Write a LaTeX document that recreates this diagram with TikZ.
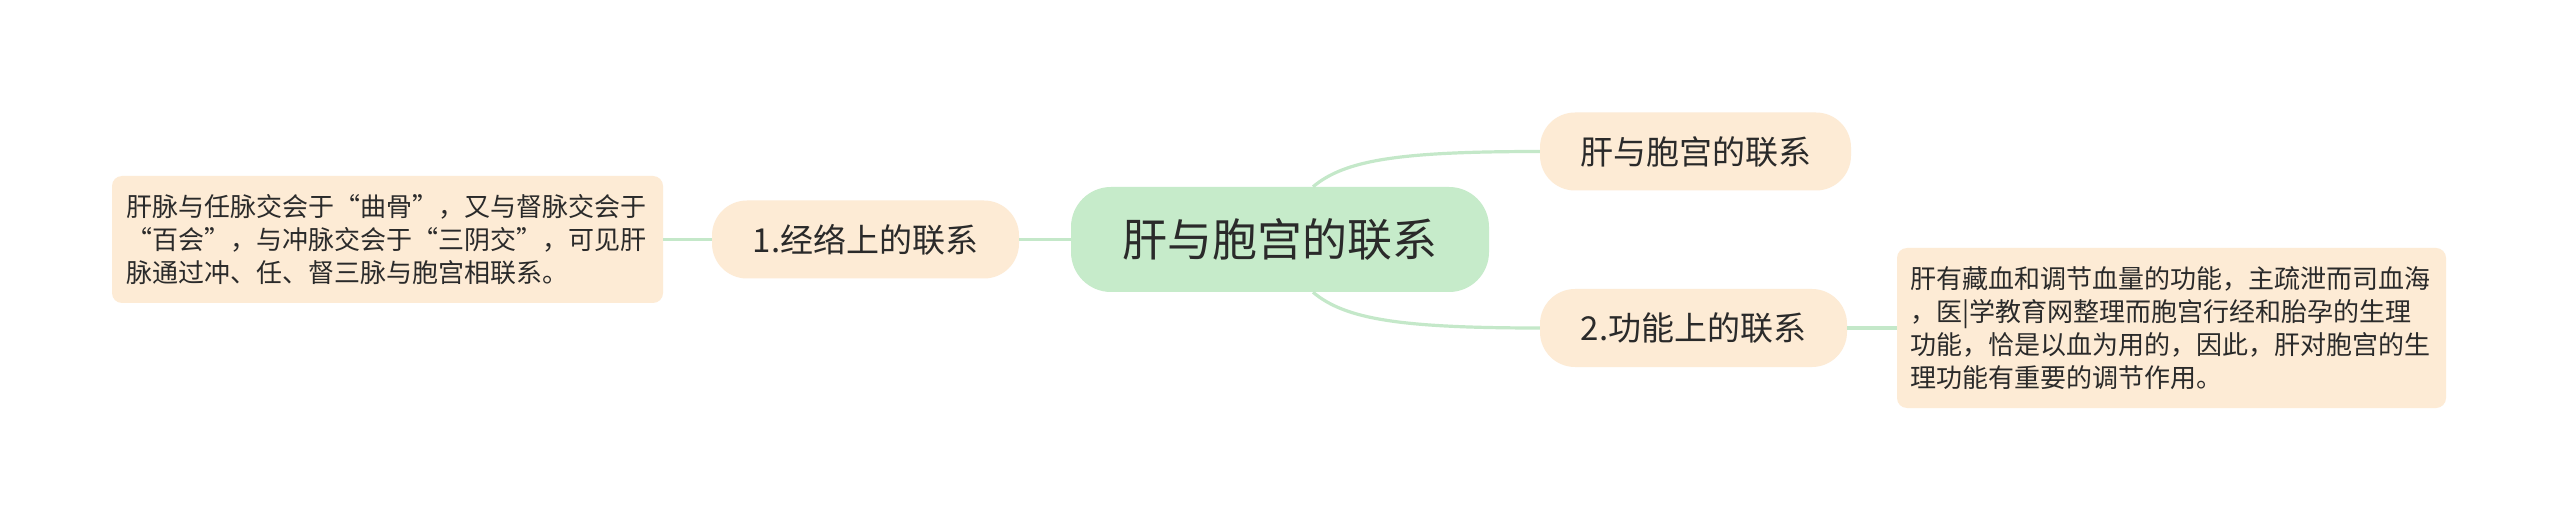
\documentclass[tikz,border=0pt]{standalone}
\usepackage{fontspec}
\setmainfont{Noto Sans CJK SC}
\definecolor{rootfill}{HTML}{C6EBCA}
\definecolor{peach}{HTML}{FDEBD5}
\definecolor{linkc}{HTML}{C4E8C9}
\definecolor{ink}{HTML}{2A2A2A}
\begin{document}
\begin{tikzpicture}[x=1pt,y=-1pt,
  root/.style={fill=rootfill, rounded corners=40pt, minimum width=418pt, minimum height=105pt, inner sep=0pt, text=ink, font=\fontsize{45}{54}\selectfont},
  branch/.style={fill=peach, rounded corners=35pt, minimum height=78pt, inner sep=0pt, text=ink, font=\fontsize{33}{40}\selectfont},
  leaf/.style={fill=peach, rounded corners=10pt, inner ysep=0pt, text width=522pt, align=left, text=ink, font=\fontsize{26}{33}\selectfont},
  conn/.style={draw=linkc, line width=3.2pt}]
\fill[white] (0,0) rectangle (2560,521);
\useasboundingbox (0,0) rectangle (2560,521);
\node[root] (c) at (1280,239.5) {肝与胞宫的联系};
\node[branch, minimum width=311pt] (t) at (1695.5,151.5) {肝与胞宫的联系};
\node[branch, minimum width=307pt] (b) at (1693.5,328) {2.功能上的联系};
\node[branch, minimum width=307pt] (l) at (865.5,239.5) {1.经络上的联系};
\node[leaf, inner xsep=14.5pt, minimum height=127pt] (ll) at (387.5,239.5)
  {肝脉与任脉交会于“曲骨”，又与督脉交会于\\“百会”，与冲脉交会于“三阴交”，可见肝\\脉通过冲、任、督三脉与胞宫相联系。};
\node[leaf, inner xsep=13.5pt, minimum height=160pt] (rl) at (2171.5,328)
  {肝有藏血和调节血量的功能，主疏泄而司血海\\，医|学教育网整理而胞宫行经和胎孕的生理\\功能，恰是以血为用的，因此，肝对胞宫的生\\理功能有重要的调节作用。};
\draw[conn] (c.west) -- (l.east);
\draw[conn] (l.west) -- (ll.east);
\draw[conn] (b.east) -- (rl.west);
\draw[conn] ([xshift=33pt]c.north) .. controls +(32,-27) and +(-140,0) .. (t.west);
\draw[conn] ([xshift=33pt]c.south) .. controls +(32,27) and +(-140,0) .. (b.west);
\end{tikzpicture}
\end{document}
